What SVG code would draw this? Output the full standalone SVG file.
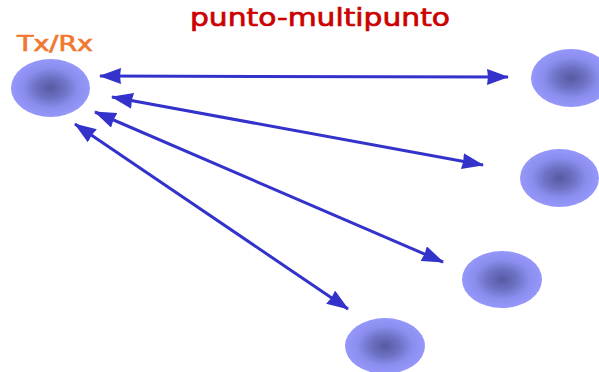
<svg xmlns="http://www.w3.org/2000/svg" width="599" height="372" viewBox="0 0 599 372">
<defs>
<radialGradient id="g" cx="0.5" cy="0.5" r="0.5">
<stop offset="0" stop-color="#565aa2"/>
<stop offset="0.35" stop-color="#6c70c2"/>
<stop offset="0.7" stop-color="#8b8eee"/>
<stop offset="1" stop-color="#9597fa"/>
</radialGradient>
<marker id="ah" viewBox="0 0 22 16" refX="21" refY="8" markerWidth="22" markerHeight="16" markerUnits="userSpaceOnUse" orient="auto-start-reverse">
<path d="M0,0 L22,8 L0,16 L1,8 Z" fill="#3333cc"/>
</marker>
<style>
.n{fill:url(#g)}
.c{stroke:#3333cc;stroke-width:3;fill:none;marker-start:url(#ah);marker-end:url(#ah)}
.t{font-family:"DejaVu Sans",Verdana,sans-serif;stroke-width:0.7}
</style>
</defs>
<rect width="599" height="372" fill="#ffffff"/>
<text class="t" x="190" y="26" font-size="24" fill="#cc0000" stroke="#cc0000" textLength="260" lengthAdjust="spacingAndGlyphs">punto-multipunto</text>
<g id="txrx">
<ellipse class="n" cx="50.5" cy="88" rx="39.5" ry="29"/>
<text class="t" x="17" y="51" font-size="20.5" fill="#f07830" stroke="#f07830" textLength="76" lengthAdjust="spacingAndGlyphs">Tx/Rx</text>
</g>
<g id="n1"><ellipse class="n" cx="571" cy="78" rx="40" ry="29"/></g>
<g id="n2"><ellipse class="n" cx="559.5" cy="178" rx="39.5" ry="29"/></g>
<g id="n3"><ellipse class="n" cx="502" cy="279.5" rx="40" ry="28.5"/></g>
<g id="n4"><ellipse class="n" cx="385" cy="346" rx="40" ry="28"/></g>
<g id="connectors">
<line class="c" x1="100" y1="76" x2="508" y2="77"/>
<line class="c" x1="112" y1="97" x2="483" y2="165"/>
<line class="c" x1="95" y1="112" x2="443" y2="262"/>
<line class="c" x1="75" y1="124" x2="348" y2="309"/>
</g>
</svg>
